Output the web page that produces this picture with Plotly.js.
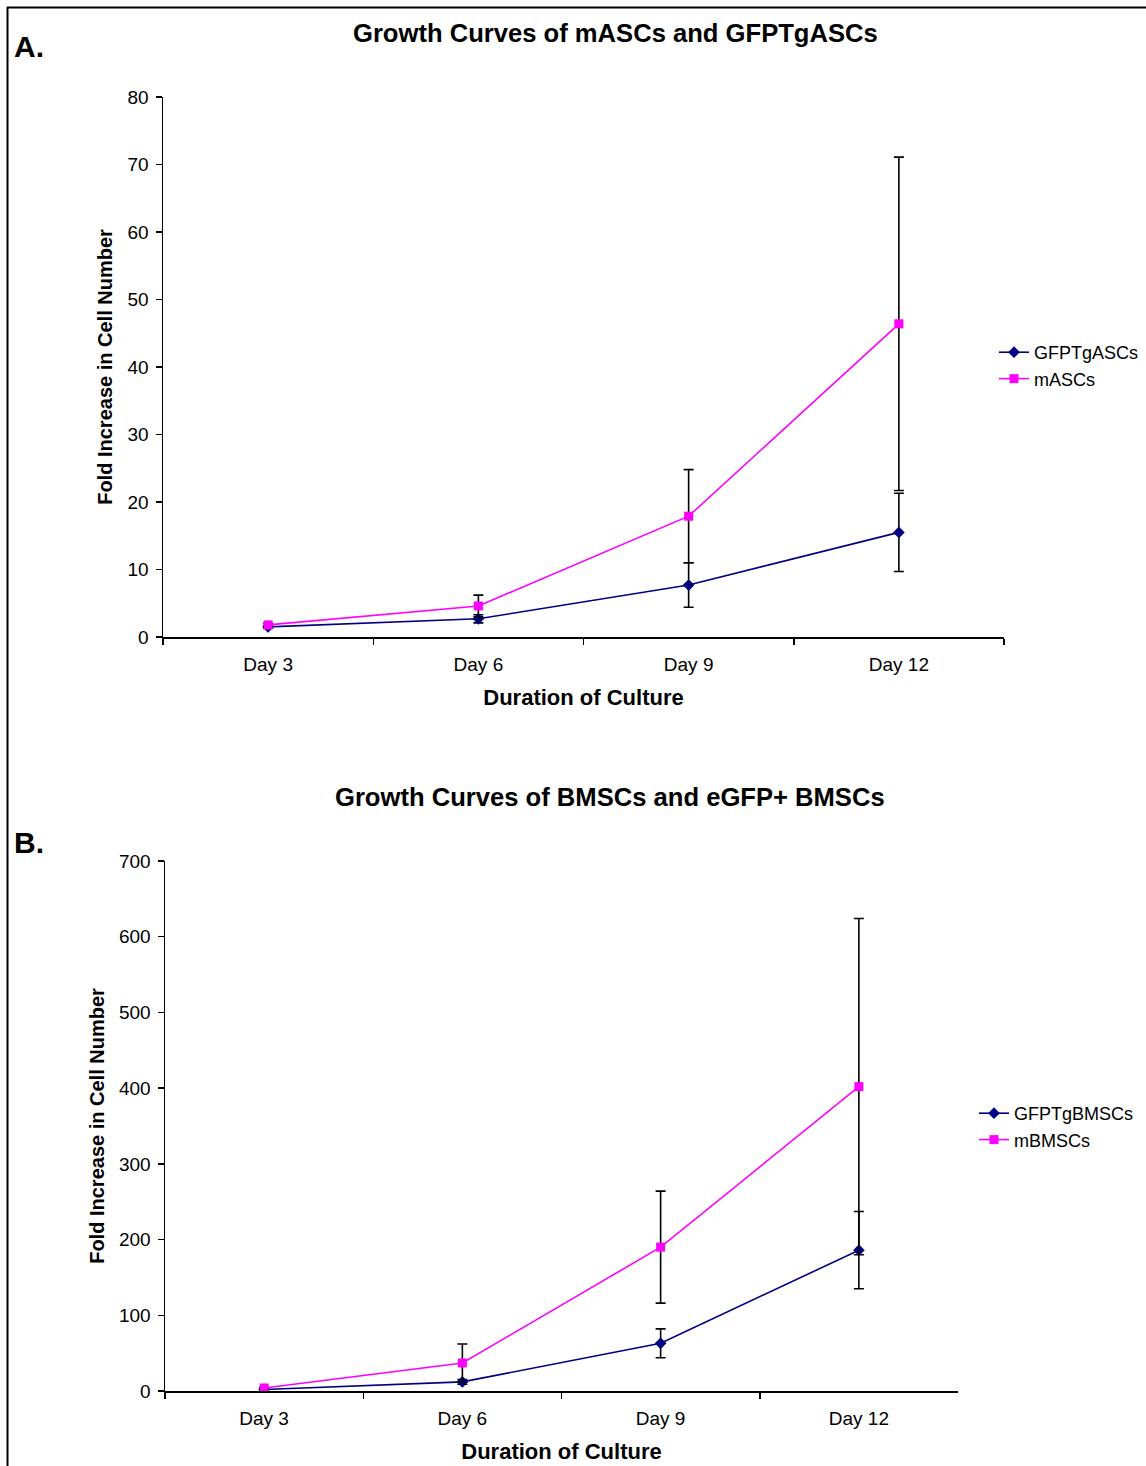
<!DOCTYPE html>
<html>
<head>
<meta charset="utf-8">
<script src="https://cdn.plot.ly/plotly-3.0.1.min.js"></script>
<style>html,body{margin:0;padding:0;background:#fff;}</style>
</head>
<body>
<div id="chart" style="width:1146px;height:1466px;"></div>
<script>
const days = ["Day 3", "Day 6", "Day 9", "Day 12"];

// Panel A
const gfpASC = [1.5, 2.7, 7.7, 15.5];
const gfpASCErr = [0.2, 0.6, 3.3, 5.8];
const mASC = [1.8, 4.6, 17.9, 46.4];
const mASCErr = [0.2, 1.6, 6.9, 24.7];

// Panel B
const gfpBM = [2, 12, 63, 186];
const gfpBMErr = [1, 3, 19, 51];
const mBM = [4, 37, 190, 402];
const mBMErr = [1, 25, 74, 222];

const FONT = "Liberation Sans, Arial, sans-serif";
const NAVY = "#000080", MAG = "#FF00FF";

function errCfg(arr) {
  return {type: "data", array: arr, visible: true, color: "#000", thickness: 1.6, width: 5};
}
function trace(y, err, name, color, symbol, xa, ya, leg) {
  return {
    x: days, y: y, name: name, type: "scatter", mode: "lines+markers",
    xaxis: xa, yaxis: ya, legend: leg,
    line: {color: color, width: 1.6},
    marker: {color: color, symbol: symbol, size: 9},
    error_y: errCfg(err)
  };
}

const data = [
  trace(gfpASC, gfpASCErr, "GFPTgASCs", NAVY, "diamond", "x", "y", "legend"),
  trace(mASC, mASCErr, "mASCs", MAG, "square", "x", "y", "legend"),
  trace(gfpBM, gfpBMErr, "GFPTgBMSCs", NAVY, "diamond", "x2", "y2", "legend2"),
  trace(mBM, mBMErr, "mBMSCs", MAG, "square", "x2", "y2", "legend2")
];

const W = 1146, H = 1466;
const px = v => v / W, py = v => 1 - v / H;

function xax(domain, anchor) {
  return {
    domain: domain, anchor: anchor, type: "category", range: [-0.5, 3.5],
    showline: true, linecolor: "#000", linewidth: 1.5, showgrid: false, zeroline: false,
    ticks: "outside", tickson: "boundaries", ticklen: 6, tickcolor: "#000", tickwidth: 1.5,
    ticklabelstandoff: 10,
    tickfont: {family: FONT, size: 19, color: "#000"},
    title: {text: "<b>Duration of Culture</b>", font: {family: FONT, size: 22, color: "#000"}, standoff: 15},
    fixedrange: true
  };
}
function yax(domain, anchor, range, dtick, standoff) {
  return {
    domain: domain, anchor: anchor, range: range, dtick: dtick,
    showline: true, linecolor: "#000", linewidth: 1.5, showgrid: false, zeroline: false,
    ticks: "outside", ticklen: 6, tickcolor: "#000", tickwidth: 1.5,
    ticklabelstandoff: 3,
    tickfont: {family: FONT, size: 19, color: "#000"},
    title: {text: "<b>Fold Increase in Cell Number</b>", font: {family: FONT, size: 20, color: "#000"}, standoff: standoff},
    fixedrange: true
  };
}

const layout = {
  width: W, height: H,
  margin: {l: 0, r: 0, t: 0, b: 0},
  paper_bgcolor: "#fff", plot_bgcolor: "#fff",
  font: {family: FONT, color: "#000"},
  xaxis: xax([px(163), px(1004)], "y"),
  yaxis: yax([py(637), py(97)], "x", [0, 80], 10, 9),
  xaxis2: xax([px(165), px(958)], "y2"),
  yaxis2: yax([py(1391), py(861)], "x2", [0, 700], 100, 9),
  legend: {x: px(994), y: py(334), xanchor: "left", yanchor: "top",
           font: {family: FONT, size: 18, color: "#000"}, bgcolor: "rgba(0,0,0,0)",
           tracegroupgap: 0, itemwidth: 30},
  legend2: {x: px(974), y: py(1095), xanchor: "left", yanchor: "top",
            font: {family: FONT, size: 18, color: "#000"}, bgcolor: "rgba(0,0,0,0)",
            tracegroupgap: 0, itemwidth: 30},
  annotations: [
    {text: "<b>Growth Curves of mASCs and GFPTgASCs</b>", xref: "paper", yref: "paper",
     x: px(615), y: py(33), xanchor: "center", yanchor: "middle", showarrow: false,
     font: {family: FONT, size: 25.6, color: "#000"}},
    {text: "<b>A.</b>", xref: "paper", yref: "paper", x: px(12), y: py(47),
     xanchor: "left", yanchor: "middle", showarrow: false, font: {family: FONT, size: 30, color: "#000"}},
    {text: "<b>Growth Curves of BMSCs and eGFP+ BMSCs</b>", xref: "paper", yref: "paper",
     x: px(610), y: py(797), xanchor: "center", yanchor: "middle", showarrow: false,
     font: {family: FONT, size: 25.6, color: "#000"}},
    {text: "<b>B.</b>", xref: "paper", yref: "paper", x: px(12), y: py(842),
     xanchor: "left", yanchor: "middle", showarrow: false, font: {family: FONT, size: 30, color: "#000"}}
  ],
  shapes: [
    {type: "line", xref: "paper", yref: "paper", x0: px(7), x1: 1, y0: py(7.5), y1: py(7.5), line: {color: "#000", width: 2}},
    {type: "line", xref: "paper", yref: "paper", x0: px(7.5), x1: px(7.5), y0: py(7), y1: 0, line: {color: "#000", width: 2}}
  ]
};

Plotly.newPlot("chart", data, layout, {displayModeBar: false, staticPlot: true});
</script>
</body>
</html>
